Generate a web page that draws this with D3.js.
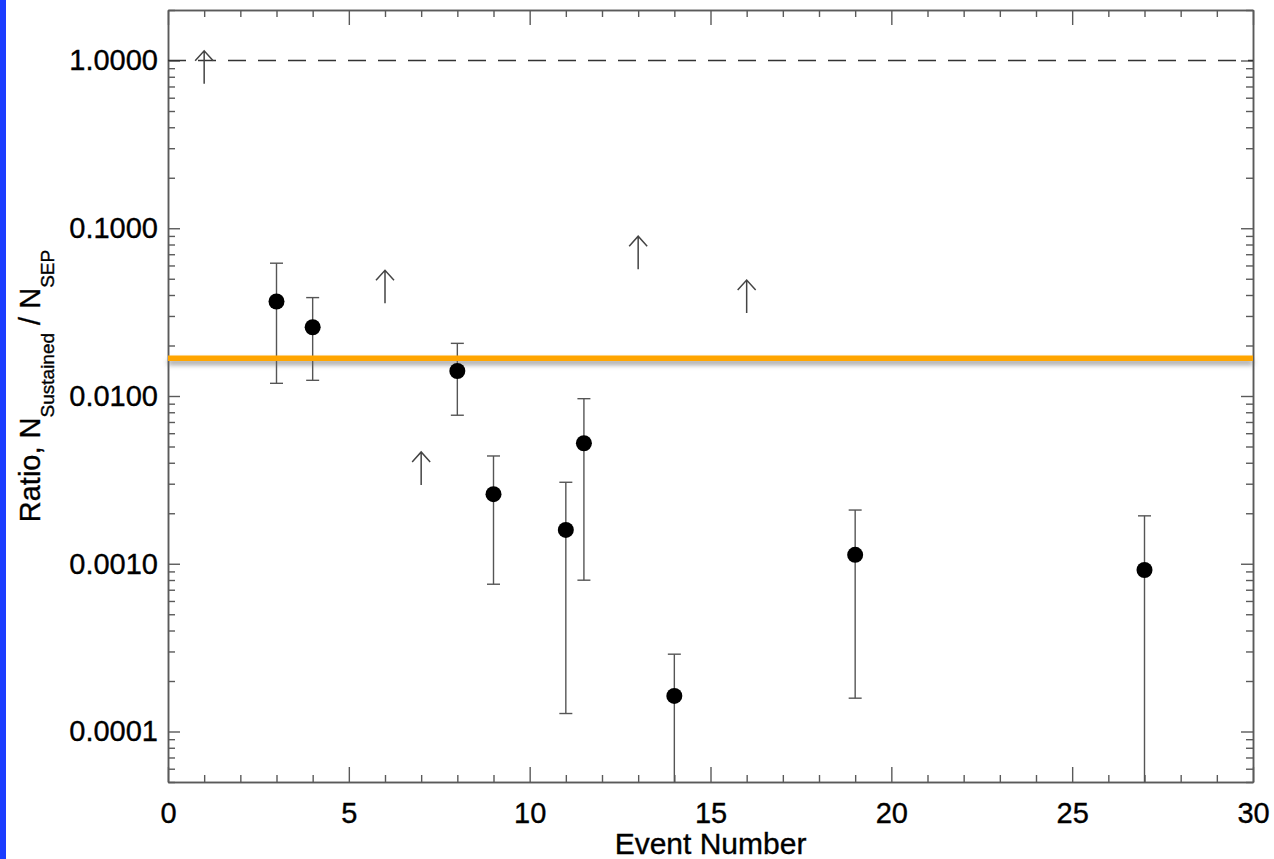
<!DOCTYPE html>
<html>
<head>
<meta charset="utf-8">
<script src="https://cdn.jsdelivr.net/npm/d3@7"></script>
<style>
  body { margin: 0; background: #fff; }
  text { font-family: "Liberation Sans", Arial, Helvetica, sans-serif; fill: #000; stroke: #000; stroke-width: 0.35px; }
</style>
</head>
<body>
<script>
// ratio of sustained to SEP counts, per event

var events = [3, 4, 8, 9, 11, 11.5, 14, 19, 27];
var ratios = [0.0366, 0.0257, 0.0141, 0.00260, 0.00159, 0.00523, 0.000163, 0.00113, 0.000918];
var upperErr = [0.0619, 0.0386, 0.0206, 0.00439, 0.00306, 0.00964, 0.000289, 0.00209, 0.00193];
var lowerErr = [0.0119, 0.0124, 0.00768, 0.000755, 0.000128, 0.000798, 0.00001, 0.000158, 0.00001];

// lower limits drawn as up arrows
var limitEvents = [1, 6, 7, 13, 16];
var limitRatios = [0.726, 0.0357, 0.00295, 0.0570, 0.0312];

var meanRatio = 0.0168;
var unityRatio = 1;

var xTicks = [0, 5, 10, 15, 20, 25, 30];
var yTicks = [1, 0.1, 0.01, 0.001, 0.0001];
var yTickLabels = ["1.0000", "0.1000", "0.0100", "0.0010", "0.0001"];

var W = 1274, H = 859;
var margin = {top: 10, right: 21, bottom: 77, left: 168};
var width = W - margin.left - margin.right;
var height = H - margin.top - margin.bottom;

var svg = d3.select("body").append("svg")
  .attr("width", W)
  .attr("height", H);

// blue strip on the left edge
svg.append("rect").attr("x", 0).attr("y", 0).attr("width", 6).attr("height", H).attr("fill", "#1a3cff");

var defs = svg.append("defs");
defs.append("clipPath").attr("id", "plotclip")
  .append("rect").attr("width", width).attr("height", height);

var x = d3.scaleLinear().domain([0, 30]).range([0, width]);
var y = d3.scaleLog().domain([5e-5, 2]).range([height, 0]);

var shadow = defs.append("filter").attr("id", "shadow")
  .attr("filterUnits", "userSpaceOnUse")
  .attr("x", -10).attr("y", y(meanRatio) - 20).attr("width", width + 20).attr("height", 40);
shadow.append("feDropShadow").attr("dx", 0).attr("dy", 4).attr("stdDeviation", 2.4)
  .attr("flood-color", "#666").attr("flood-opacity", 0.6);

var g = svg.append("g").attr("transform", "translate(" + margin.left + "," + margin.top + ")");

// minor tick values
var xMinor = d3.range(0, 31).filter(function (d) { return d % 5 !== 0; });
var yMinor = [];
for (var e = -5; e <= 0; e++) {
  for (var m = 2; m <= 9; m++) {
    var v = m * Math.pow(10, e);
    if (v >= 5e-5 && v <= 2) yMinor.push(v);
  }
}

var axisColor = "#5a5a5a";

function styleAxis(sel) {
  sel.selectAll("path").attr("stroke", axisColor).attr("stroke-width", 1.5);
  sel.selectAll("line").attr("stroke", axisColor).attr("stroke-width", 1.4);
  sel.selectAll("text").style("font-size", "29px").attr("fill", "#000");
}

// bottom
g.append("g").attr("transform", "translate(0," + height + ")")
  .call(d3.axisBottom(x).tickValues(xTicks).tickSize(-15).tickSizeOuter(0).tickPadding(20).tickFormat(d3.format("d")))
  .call(styleAxis);
g.append("g").attr("transform", "translate(0," + height + ")")
  .call(d3.axisBottom(x).tickValues(xMinor).tickSize(-7).tickSizeOuter(0).tickFormat(""))
  .call(styleAxis);
// top
g.append("g")
  .call(d3.axisTop(x).tickValues(xTicks).tickSize(-15).tickSizeOuter(0).tickFormat(""))
  .call(styleAxis);
g.append("g")
  .call(d3.axisTop(x).tickValues(xMinor).tickSize(-7).tickSizeOuter(0).tickFormat(""))
  .call(styleAxis);
// left
g.append("g")
  .call(d3.axisLeft(y).tickValues(yTicks).tickSize(-12).tickSizeOuter(0).tickPadding(10)
    .tickFormat(function (d, i) { return yTickLabels[i]; }))
  .call(styleAxis);
g.append("g")
  .call(d3.axisLeft(y).tickValues(yMinor).tickSize(-7).tickSizeOuter(0).tickFormat(""))
  .call(styleAxis);
// right
g.append("g").attr("transform", "translate(" + width + ",0)")
  .call(d3.axisRight(y).tickValues(yTicks).tickSize(-12).tickSizeOuter(0).tickFormat(""))
  .call(styleAxis);
g.append("g").attr("transform", "translate(" + width + ",0)")
  .call(d3.axisRight(y).tickValues(yMinor).tickSize(-7).tickSizeOuter(0).tickFormat(""))
  .call(styleAxis);

// dashed line at ratio 1
g.append("line")
  .attr("x1", 0).attr("x2", width)
  .attr("y1", y(unityRatio)).attr("y2", y(unityRatio))
  .attr("stroke", "#333").attr("stroke-width", 1.3)
  .attr("stroke-dasharray", "18,12");

var plot = g.append("g").attr("clip-path", "url(#plotclip)");

// error bars
var idx = d3.range(events.length);
plot.selectAll(".err").data(idx).enter().append("line")
  .attr("class", "err")
  .attr("x1", function (i) { return x(events[i]); })
  .attr("x2", function (i) { return x(events[i]); })
  .attr("y1", function (i) { return y(Math.max(lowerErr[i], 1e-6)); })
  .attr("y2", function (i) { return y(upperErr[i]); })
  .attr("stroke", "#555").attr("stroke-width", 1.4);

var capW = 6.5;
plot.selectAll(".capTop").data(idx).enter().append("line")
  .attr("class", "capTop")
  .attr("x1", function (i) { return x(events[i]) - capW; })
  .attr("x2", function (i) { return x(events[i]) + capW; })
  .attr("y1", function (i) { return y(upperErr[i]); })
  .attr("y2", function (i) { return y(upperErr[i]); })
  .attr("stroke", "#555").attr("stroke-width", 1.4);
plot.selectAll(".capBot").data(idx).enter().append("line")
  .attr("class", "capBot")
  .attr("x1", function (i) { return x(events[i]) - capW; })
  .attr("x2", function (i) { return x(events[i]) + capW; })
  .attr("y1", function (i) { return y(lowerErr[i]); })
  .attr("y2", function (i) { return y(lowerErr[i]); })
  .attr("stroke", "#555").attr("stroke-width", 1.4);

// mean ratio line (drawn over the error bars)
g.append("line")
  .attr("x1", 0).attr("x2", width)
  .attr("y1", y(meanRatio)).attr("y2", y(meanRatio))
  .attr("stroke", "#ffa500").attr("stroke-width", 5.5)
  .attr("filter", "url(#shadow)");

var dots = g.append("g").attr("clip-path", "url(#plotclip)");
dots.selectAll(".dot").data(idx).enter().append("circle")
  .attr("class", "dot")
  .attr("cx", function (i) { return x(events[i]); })
  .attr("cy", function (i) { return y(ratios[i]); })
  .attr("r", 8)
  .attr("fill", "#000");

// up arrows for lower limits
var arrowLen = 33, headW = 9, headH = 10;
dots.selectAll(".arrow").data(d3.range(limitEvents.length)).enter().append("path")
  .attr("class", "arrow")
  .attr("d", function (i) {
    var ax = x(limitEvents[i]), ay = y(limitRatios[i]);
    var tip = ay - arrowLen;
    return "M" + ax + "," + ay + "V" + tip +
      "M" + (ax - headW) + "," + (tip + headH) + "L" + ax + "," + tip + "L" + (ax + headW) + "," + (tip + headH);
  })
  .attr("fill", "none").attr("stroke", "#444").attr("stroke-width", 1.5);

// axis titles
svg.append("text")
  .attr("x", margin.left + width / 2)
  .attr("y", 854)
  .attr("text-anchor", "middle")
  .style("font-size", "30px")
  .text("Event Number");

var yt = svg.append("text")
  .attr("transform", "translate(40,386) rotate(-90)")
  .attr("text-anchor", "middle")
  .style("font-size", "29px");
yt.append("tspan").text("Ratio, N");
yt.append("tspan").attr("dy", 14).style("font-size", "19px").text("Sustained");
yt.append("tspan").attr("dy", -14).text(" / N");
yt.append("tspan").attr("dy", 14).style("font-size", "19px").text("SEP");
</script>
</body>
</html>
